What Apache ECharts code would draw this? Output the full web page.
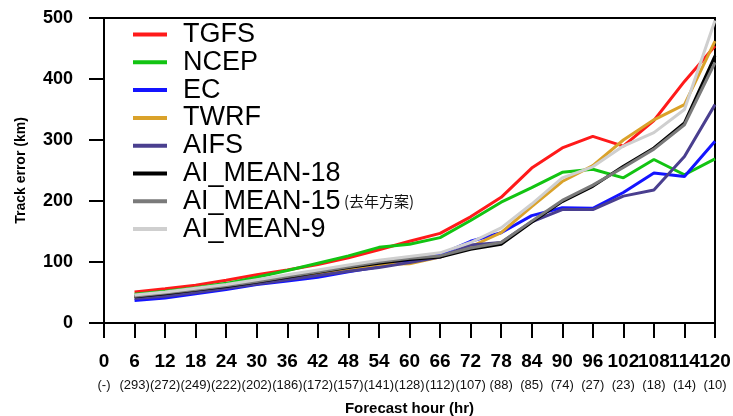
<!DOCTYPE html>
<html>
<head>
<meta charset="utf-8">
<script src="https://cdn.jsdelivr.net/npm/echarts@6/dist/echarts.min.js"></script>
<style>
  html, body { margin: 0; padding: 0; background: #fff; }
  #chart { width: 733px; height: 416px; }
</style>
</head>
<body>
<div id="chart"></div>
<script>
// Forecast lead times (h) and number of verified samples at each lead time
const hours = ['0', '6', '12', '18', '24', '30', '36', '42', '48', '54', '60', '66', '72', '78', '84', '90', '96', '102', '108', '114', '120'];
const counts = ['(-)', '(293)', '(272)', '(249)', '(222)', '(202)', '(186)', '(172)', '(157)', '(141)', '(128)', '(112)', '(107)', '(88)', '(85)', '(74)', '(27)', '(23)', '(18)', '(14)', '(10)'];

// Mean track error (km) per model; no value at 0 h
const tgfs   = [null, 51, 56, 62, 70, 79, 87, 96, 107, 120, 134, 147, 174, 206, 254, 287, 306, 290, 332, 396, 454];
const ncep   = [null, 47, 52, 58, 65, 75, 86, 98, 110, 124, 129, 140, 168, 198, 222, 247, 252, 238, 268, 243, 269];
const ec     = [null, 37, 41, 48, 55, 63, 69, 75, 84, 92, 102, 112, 134, 148, 176, 189, 188, 214, 246, 240, 298];
const twrf   = [null, 42, 47, 53, 59, 67, 74, 81, 89, 96, 97, 108, 125, 148, 191, 232, 258, 300, 333, 358, 462];
const aifs   = [null, 40, 44, 50, 57, 64, 71, 78, 85, 91, 99, 108, 128, 132, 166, 186, 186, 208, 218, 273, 358];
const aiMean18 = [null, 43, 48, 54, 60, 67, 75, 83, 91, 98, 104, 108, 121, 129, 165, 199, 224, 257, 287, 328, 438];
const aiMean15 = [null, 44, 49, 55, 61, 68, 76, 84, 92, 100, 106, 110, 123, 132, 167, 201, 226, 255, 285, 325, 427];
const aiMean9  = [null, 46, 51, 57, 63, 71, 79, 87, 95, 103, 109, 115, 132, 156, 195, 238, 256, 290, 312, 350, 496];

const yTicks = { min: 0, max: 500, step: 100 };

const models = [
  { name: 'TGFS', data: tgfs, color: '#ff1a1a' },
  { name: 'NCEP', data: ncep, color: '#12c412' },
  { name: 'EC', data: ec, color: '#1414ff' },
  { name: 'TWRF', data: twrf, color: '#daa22a' },
  { name: 'AIFS', data: aifs, color: '#4a3f8f' },
  { name: 'AI_MEAN-18', data: aiMean18, color: '#000000' },
  { name: 'AI_MEAN-15', data: aiMean15, color: '#7a7a7a' },
  { name: 'AI_MEAN-9', data: aiMean9, color: '#cfcfcf' }
];

const FONT = "'Liberation Sans', Arial, Helvetica, sans-serif";

const chart = echarts.init(document.getElementById('chart'), null, { renderer: 'canvas' });

chart.setOption({
  animation: false,
  backgroundColor: '#ffffff',
  grid: {
    left: 104, right: 18, top: 18, bottom: 93,
    outerBoundsMode: 'none',
    containLabel: false,
    show: true, borderColor: '#000', borderWidth: 2, backgroundColor: 'transparent'
  },
  legend: {
    orient: 'vertical',
    left: 128,
    top: 16,
    itemWidth: 34,
    itemHeight: 4,
    itemGap: 0.8,
    icon: 'rect',
    data: models.map(m => m.name),
    formatter: function (name) {
      if (name === 'AI_MEAN-15') {
        return '{n|' + name + '} {s|(去年方案)}';
      }
      return '{n|' + name + '}';
    },
    textStyle: {
      padding: [0, 0, 0, 11],
      rich: {
        n: { fontFamily: FONT, fontSize: 27, lineHeight: 27, color: '#000' },
        s: { fontFamily: "'Noto Sans CJK SC', sans-serif", fontSize: 15, lineHeight: 27, color: '#111' }
      }
    }
  },
  xAxis: {
    type: 'category',
    data: hours,
    boundaryGap: false,
    name: 'Forecast hour (hr)',
    nameLocation: 'middle',
    nameGap: 78,
    nameTextStyle: { fontFamily: FONT, fontSize: 15, fontWeight: 'bold', color: '#000' },
    axisLine: { lineStyle: { color: '#000', width: 2 } },
    axisTick: { show: true, inside: false, length: 15, alignWithLabel: true, interval: 0, lineStyle: { color: '#000', width: 2 } },
    axisLabel: {
      interval: 0,
      margin: 28,
      formatter: function (value, idx) {
        return '{h|' + value + '}\n{c|' + counts[idx] + '}';
      },
      rich: {
        h: { fontFamily: FONT, fontSize: 19, fontWeight: 'bold', lineHeight: 22, color: '#000' },
        c: { fontFamily: FONT, fontSize: 13, lineHeight: 24, color: '#111' }
      }
    },
    splitLine: { show: false }
  },
  yAxis: {
    type: 'value',
    min: yTicks.min,
    max: yTicks.max,
    interval: yTicks.step,
    name: 'Track error (km)',
    nameLocation: 'middle',
    nameRotate: 90,
    nameGap: 76,
    nameTextStyle: { fontFamily: FONT, fontSize: 14, fontWeight: 'bold', color: '#000' },
    axisLine: { show: true, lineStyle: { color: '#000', width: 2 } },
    axisTick: { show: true, inside: false, length: 15, lineStyle: { color: '#000', width: 2 } },
    axisLabel: { margin: 31, fontFamily: FONT, fontSize: 18, fontWeight: 'bold', color: '#000' },
    splitLine: { show: false }
  },
  series: models.map(m => ({
    name: m.name,
    type: 'line',
    data: m.data,
    color: m.color,
    symbol: 'none',
    smooth: false,
    lineStyle: { width: 3, color: m.color },
    emphasis: { disabled: true }
  }))
});
</script>
</body>
</html>
